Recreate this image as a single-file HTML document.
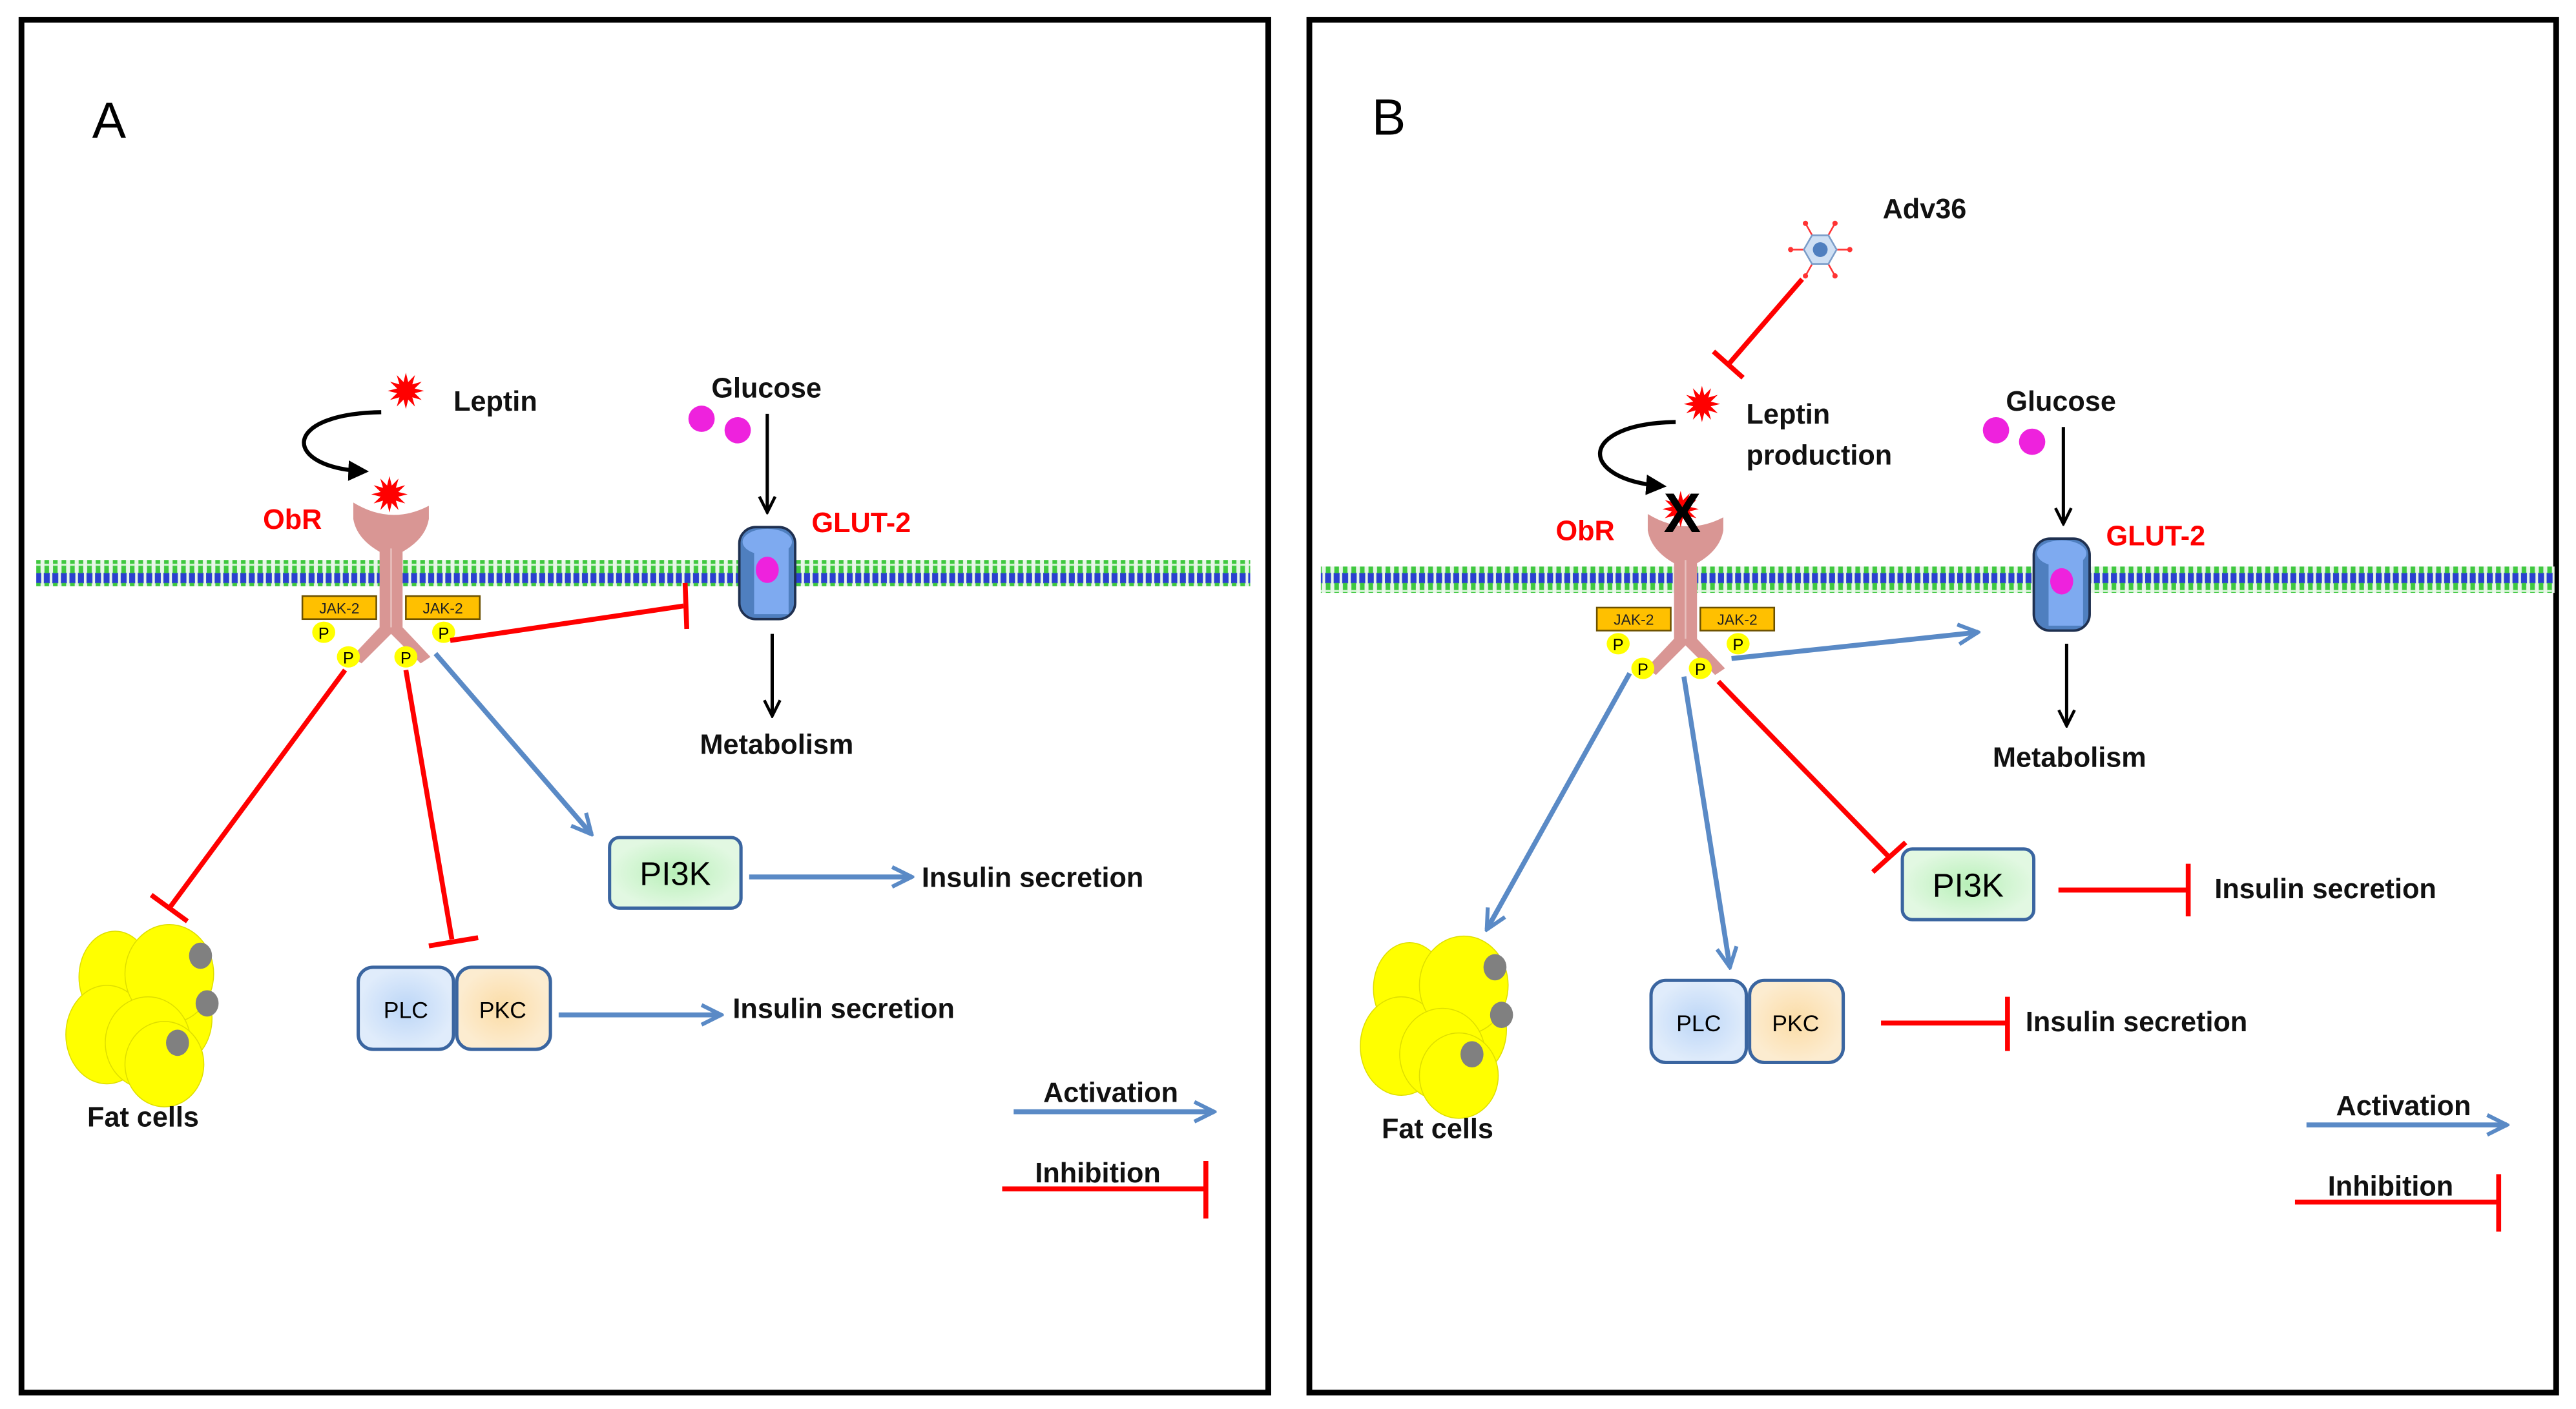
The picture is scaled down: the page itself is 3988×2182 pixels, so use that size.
<!DOCTYPE html>
<html><head><meta charset="utf-8"><style>
html,body{margin:0;padding:0;background:#fff;}
svg{display:block;}
text{font-family:"Liberation Sans",sans-serif;}
.b{font-weight:bold;font-size:17px;fill:#111;}
.r{font-weight:bold;font-size:17px;fill:#f00;}
</style></head><body>
<svg width="3988" height="2182" viewBox="0 0 1568 858" xmlns="http://www.w3.org/2000/svg">
<defs>
<pattern id="mem" x="0" y="0" width="5.2" height="16" patternUnits="userSpaceOnUse">
<rect x="0" y="0" width="5.2" height="16" fill="#e8f6e8"/>
<rect x="0.6" y="0" width="3.6" height="3.2" fill="#2a3fd0"/>
<rect x="0.6" y="12.8" width="3.6" height="3.2" fill="#2a3fd0"/>
<rect x="1" y="3" width="2.8" height="10" fill="#3fc83f"/>
<rect x="1" y="7.3" width="2.8" height="1.2" fill="#d8f5d8"/>
</pattern>
<symbol id="star" viewBox="-13 -13 26 26" overflow="visible">
<polygon fill="#f00" points="12,0 5.8,1.55 10.4,6 4.24,4.24 6,10.4 1.55,5.8 0,12 -1.55,5.8 -6,10.4 -4.24,4.24 -10.4,6 -5.8,1.55 -12,0 -5.8,-1.55 -10.4,-6 -4.24,-4.24 -6,-10.4 -1.55,-5.8 0,-12 1.55,-5.8 6,-10.4 4.24,-4.24 10.4,-6 5.8,-1.55"/>
</symbol>
<marker id="ab" viewBox="0 0 10 10" refX="9" refY="5" markerWidth="5" markerHeight="5" orient="auto" markerUnits="strokeWidth"><path d="M1,1 L9,5 L1,9" fill="none" stroke="#5a8ac6" stroke-width="1.6"/></marker>
<marker id="ak" viewBox="0 0 10 10" refX="9" refY="5" markerWidth="6" markerHeight="6" orient="auto" markerUnits="strokeWidth"><path d="M1,1 L9,5 L1,9" fill="none" stroke="#000" stroke-width="1.5"/></marker>
<marker id="akf" viewBox="0 0 10 10" refX="8" refY="5" markerWidth="5" markerHeight="5" orient="auto" markerUnits="strokeWidth"><path d="M0,0 L10,5 L0,10z" fill="#000"/></marker>
<radialGradient id="gG"><stop offset="0" stop-color="#b8f0b8"/><stop offset="1" stop-color="#e2f8e2"/></radialGradient>
<radialGradient id="gB"><stop offset="0" stop-color="#bcd6f7"/><stop offset="1" stop-color="#e0ecfb"/></radialGradient>
<radialGradient id="gO"><stop offset="0" stop-color="#fbdca6"/><stop offset="1" stop-color="#fcecd0"/></radialGradient>
<g id="fat">
<ellipse cx="-15" cy="-20" rx="22" ry="28" fill="#ff0" stroke="#dede00" stroke-width="0.6"/>
<ellipse cx="-20" cy="15" rx="25" ry="30" fill="#ff0" stroke="#dede00" stroke-width="0.6"/>
<ellipse cx="22" cy="5" rx="22" ry="28" fill="#ff0" stroke="#dede00" stroke-width="0.6"/>
<ellipse cx="18" cy="-22" rx="27" ry="30" fill="#ff0" stroke="#dede00" stroke-width="0.6"/>
<ellipse cx="5" cy="20" rx="26" ry="28" fill="#ff0" stroke="#dede00" stroke-width="0.6"/>
<ellipse cx="15" cy="33" rx="24" ry="26" fill="#ff0" stroke="#dede00" stroke-width="0.6"/>
<ellipse cx="37" cy="-33" rx="7" ry="8" fill="#808080"/>
<ellipse cx="41" cy="-4" rx="7" ry="8" fill="#808080"/>
<ellipse cx="23" cy="20" rx="7" ry="8" fill="#808080"/>
</g>
<g id="rec">
<path d="M-23,0 L-23,10 Q-21,22 -7,30 L-7,76 L-24,94 L-18,98 L0,80 L18,98 L24,94 L7,76 L7,30 Q21,22 23,10 L23,2 Q0,14 -23,0z" fill="#d99694"/>
<line x1="0" y1="28" x2="0" y2="76" stroke="#e8c0be" stroke-width="1"/>
<rect x="-54" y="57" width="45" height="14" fill="#ffc000" stroke="#6b5000" stroke-width="1"/>
<rect x="9" y="57" width="45" height="14" fill="#ffc000" stroke="#6b5000" stroke-width="1"/>
<text x="-31.5" y="67.5" font-size="9" text-anchor="middle" fill="#222">JAK-2</text>
<text x="31.5" y="67.5" font-size="9" text-anchor="middle" fill="#222">JAK-2</text>
<ellipse cx="-41" cy="79" rx="7" ry="6.5" fill="#ff0"/>
<ellipse cx="-26" cy="94" rx="7" ry="6.5" fill="#ff0"/>
<ellipse cx="9" cy="94" rx="7" ry="6.5" fill="#ff0"/>
<ellipse cx="32" cy="79" rx="7" ry="6.5" fill="#ff0"/>
<text x="-41" y="83" font-size="10" text-anchor="middle">P</text>
<text x="-26" y="98" font-size="10" text-anchor="middle">P</text>
<text x="9" y="98" font-size="10" text-anchor="middle">P</text>
<text x="32" y="83" font-size="10" text-anchor="middle">P</text>
</g>
<g id="glut">
<rect x="-17" y="0" width="34" height="56" rx="10" fill="#4f7fbf" stroke="#1f3050" stroke-width="1.5"/>
<ellipse cx="0" cy="9" rx="15" ry="8" fill="#7eaaf0"/>
<rect x="-8" y="9" width="21" height="44" fill="#7eaaf0"/>
<ellipse cx="0" cy="26" rx="7" ry="8" fill="#ee22dd"/>
</g>
<g id="pp">
<rect x="0" y="0" width="58" height="50" rx="9" fill="url(#gB)" stroke="#3a65a0" stroke-width="2"/>
<rect x="60" y="0" width="57" height="50" rx="9" fill="url(#gO)" stroke="#3a65a0" stroke-width="2"/>
<text x="29" y="31" font-size="14" text-anchor="middle">PLC</text>
<text x="88" y="31" font-size="14" text-anchor="middle">PKC</text>
</g>
<g id="pi3k">
<rect x="0" y="0" width="80" height="43" rx="6" fill="url(#gG)" stroke="#3a65a0" stroke-width="2"/>
<text x="40" y="29" font-size="20" text-anchor="middle">PI3K</text>
</g>
</defs>

<rect x="0" y="0" width="1568" height="858" fill="#fff"/>
<!-- Panel A -->
<rect x="13" y="12" width="759" height="836" fill="none" stroke="#000" stroke-width="3.5"/>
<text x="56" y="84" font-size="31">A</text>
<rect x="22" y="341" width="739" height="16" fill="url(#mem)"/>
<use href="#rec" x="238" y="306"/>
<use href="#star" x="225" y="289" width="24" height="24"/>
<use href="#star" x="235" y="226" width="24" height="24"/>
<text class="b" x="276" y="250">Leptin</text>
<path d="M232,251 C170,252 172,285 222,287" fill="none" stroke="#000" stroke-width="2.5" marker-end="url(#akf)"/>
<text class="r" x="160" y="322">ObR</text>
<text class="b" x="433" y="242">Glucose</text>
<circle cx="427" cy="255" r="8" fill="#ee22dd"/>
<circle cx="449" cy="262" r="8" fill="#ee22dd"/>
<line x1="467" y1="252" x2="467" y2="312" stroke="#000" stroke-width="2" marker-end="url(#ak)"/>
<use href="#glut" x="467" y="321"/>
<text class="r" x="494" y="324">GLUT-2</text>
<line x1="470" y1="386" x2="470" y2="436" stroke="#000" stroke-width="2" marker-end="url(#ak)"/>
<text class="b" x="426" y="459">Metabolism</text>
<line x1="274" y1="390" x2="416" y2="369" stroke="#f00" stroke-width="3"/>
<line x1="417" y1="355" x2="418" y2="383" stroke="#f00" stroke-width="3"/>
<line x1="210" y1="408" x2="103" y2="553" stroke="#f00" stroke-width="3"/>
<line x1="92" y1="545" x2="114" y2="561" stroke="#f00" stroke-width="3"/>
<line x1="247" y1="408" x2="275" y2="572" stroke="#f00" stroke-width="3"/>
<line x1="261" y1="576" x2="291" y2="571" stroke="#f00" stroke-width="3"/>
<line x1="265" y1="398" x2="360" y2="508" stroke="#5a8ac6" stroke-width="3" marker-end="url(#ab)"/>
<use href="#pi3k" x="371" y="510"/>
<line x1="456" y1="534" x2="555" y2="534" stroke="#5a8ac6" stroke-width="3" marker-end="url(#ab)"/>
<text class="b" x="561" y="540">Insulin secretion</text>
<use href="#pp" x="218" y="589"/>
<line x1="340" y1="618" x2="439" y2="618" stroke="#5a8ac6" stroke-width="3" marker-end="url(#ab)"/>
<text class="b" x="446" y="620">Insulin secretion</text>
<use href="#fat" x="85" y="615"/>
<text class="b" x="53" y="686">Fat cells</text>
<text class="b" x="635" y="671">Activation</text>
<line x1="617" y1="677" x2="739" y2="677" stroke="#5a8ac6" stroke-width="3" marker-end="url(#ab)"/>
<text class="b" x="630" y="720">Inhibition</text>
<line x1="610" y1="724" x2="734" y2="724" stroke="#f00" stroke-width="3"/>
<line x1="734" y1="707" x2="734" y2="742" stroke="#f00" stroke-width="3"/>

<!-- Panel B -->
<rect x="797" y="12" width="759" height="836" fill="none" stroke="#000" stroke-width="3.5"/>
<text x="835" y="82" font-size="31">B</text>
<rect x="804" y="345" width="751" height="16" fill="url(#mem)"/>
<use href="#rec" x="1026" y="313"/>
<use href="#star" x="1011" y="298" width="24" height="24"/>
<text x="1024" y="324" font-size="34" font-weight="bold" text-anchor="middle" fill="#000">X</text>
<use href="#star" x="1024" y="234" width="24" height="24"/>
<text class="b" x="1063" y="258">Leptin</text>
<text class="b" x="1063" y="283">production</text>
<path d="M1020,257 C960,258 960,292 1012,296" fill="none" stroke="#000" stroke-width="2.5" marker-end="url(#akf)"/>
<text class="r" x="947" y="329">ObR</text>
<!-- virus -->
<g transform="translate(1108,152)">
<g stroke="#f33" stroke-width="1"><line x1="-18" y1="0" x2="18" y2="0"/><line x1="-9" y1="-16" x2="9" y2="16"/><line x1="9" y1="-16" x2="-9" y2="16"/></g>
<g fill="#f33"><circle cx="-18" cy="0" r="1.6"/><circle cx="18" cy="0" r="1.6"/><circle cx="-9" cy="-16" r="1.6"/><circle cx="9" cy="16" r="1.6"/><circle cx="9" cy="-16" r="1.6"/><circle cx="-9" cy="16" r="1.6"/></g>
<polygon points="10,0 5,-8.7 -5,-8.7 -10,0 -5,8.7 5,8.7" fill="#cfe0f4" stroke="#7a9cc8"/>
<circle cx="0" cy="0" r="4.5" fill="#4f7fbf"/>
</g>
<text class="b" x="1146" y="133">Adv36</text>
<line x1="1097" y1="170" x2="1052" y2="222" stroke="#f00" stroke-width="3"/>
<line x1="1043" y1="214" x2="1061" y2="230" stroke="#f00" stroke-width="3"/>
<text class="b" x="1221" y="250">Glucose</text>
<circle cx="1215" cy="262" r="8" fill="#ee22dd"/>
<circle cx="1237" cy="269" r="8" fill="#ee22dd"/>
<line x1="1256" y1="260" x2="1256" y2="319" stroke="#000" stroke-width="2" marker-end="url(#ak)"/>
<use href="#glut" x="1255" y="328"/>
<text class="r" x="1282" y="332">GLUT-2</text>
<line x1="1258" y1="392" x2="1258" y2="442" stroke="#000" stroke-width="2" marker-end="url(#ak)"/>
<text class="b" x="1213" y="467">Metabolism</text>
<line x1="1054" y1="401" x2="1204" y2="385" stroke="#5a8ac6" stroke-width="3" marker-end="url(#ab)"/>
<line x1="992" y1="410" x2="905" y2="566" stroke="#5a8ac6" stroke-width="3" marker-end="url(#ab)"/>
<line x1="1025" y1="412" x2="1053" y2="589" stroke="#5a8ac6" stroke-width="3" marker-end="url(#ab)"/>
<line x1="1046" y1="415" x2="1150" y2="522" stroke="#f00" stroke-width="3"/>
<line x1="1140" y1="531" x2="1160" y2="513" stroke="#f00" stroke-width="3"/>
<use href="#pi3k" x="1158" y="517"/>
<line x1="1253" y1="542" x2="1332" y2="542" stroke="#f00" stroke-width="3"/>
<line x1="1332" y1="526" x2="1332" y2="558" stroke="#f00" stroke-width="3"/>
<text class="b" x="1348" y="547">Insulin secretion</text>
<use href="#pp" x="1005" y="597"/>
<line x1="1145" y1="623" x2="1222" y2="623" stroke="#f00" stroke-width="3"/>
<line x1="1222" y1="607" x2="1222" y2="640" stroke="#f00" stroke-width="3"/>
<text class="b" x="1233" y="628">Insulin secretion</text>
<use href="#fat" x="873" y="622"/>
<text class="b" x="841" y="693">Fat cells</text>
<text class="b" x="1422" y="679">Activation</text>
<line x1="1404" y1="685" x2="1526" y2="685" stroke="#5a8ac6" stroke-width="3" marker-end="url(#ab)"/>
<text class="b" x="1417" y="728">Inhibition</text>
<line x1="1397" y1="732" x2="1521" y2="732" stroke="#f00" stroke-width="3"/>
<line x1="1521" y1="715" x2="1521" y2="750" stroke="#f00" stroke-width="3"/>
</svg>
</body></html>
